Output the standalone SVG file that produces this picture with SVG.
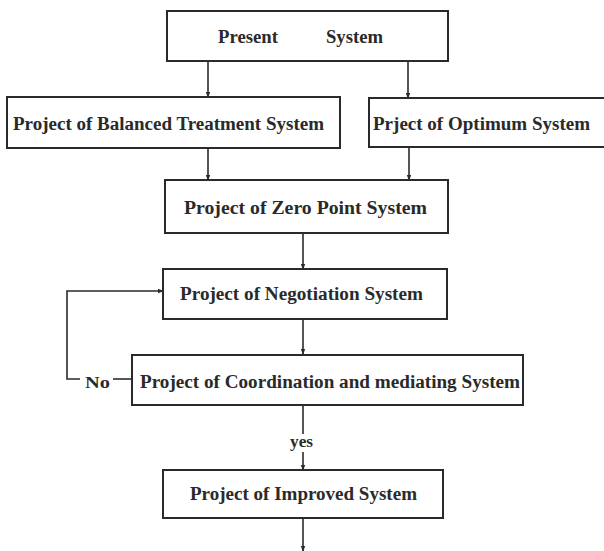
<svg xmlns="http://www.w3.org/2000/svg" width="604" height="551" viewBox="0 0 604 551">
<defs>
<style>
.box{fill:#fff;stroke:#2a2a2a;stroke-width:2}
.ln{fill:none;stroke:#2a2a2a;stroke-width:1.6}
.t{font-family:"Liberation Serif","Times New Roman",serif;font-size:18.5px;font-weight:bold;fill:#2a2a2a}
.s{font-family:"Liberation Serif","Times New Roman",serif;font-size:16px;font-weight:bold;fill:#2a2a2a}
</style>
<marker id="ah" viewBox="0 0 8 8" refX="7" refY="4" markerWidth="6" markerHeight="6" orient="auto" markerUnits="userSpaceOnUse">
<path d="M0,1 L8,4 L0,7 Z" fill="#2a2a2a"/>
</marker>
</defs>
<rect width="604" height="551" fill="#fff"/>
<g id="connectors">
<line class="ln" x1="208" y1="61" x2="208" y2="97" marker-end="url(#ah)"/>
<line class="ln" x1="408" y1="61" x2="408" y2="98" marker-end="url(#ah)"/>
<line class="ln" x1="208" y1="148" x2="208" y2="180" marker-end="url(#ah)"/>
<line class="ln" x1="409" y1="147" x2="409" y2="180" marker-end="url(#ah)"/>
<line class="ln" x1="303" y1="233" x2="303" y2="269" marker-end="url(#ah)"/>
<line class="ln" x1="303" y1="319" x2="303" y2="354" marker-end="url(#ah)"/>
<polyline class="ln" points="80,379 67,379 67,291 163,291" marker-end="url(#ah)"/>
<line class="ln" x1="113" y1="379" x2="132" y2="379"/>
<line class="ln" x1="303" y1="405" x2="303" y2="434"/>
<line class="ln" x1="303" y1="452" x2="303" y2="470" marker-end="url(#ah)"/>
<line class="ln" x1="303" y1="518" x2="303" y2="551" marker-end="url(#ah)"/>
<text class="s" x="85" y="388" textLength="25" lengthAdjust="spacingAndGlyphs">No</text>
<text class="s" x="290" y="447" textLength="23" lengthAdjust="spacingAndGlyphs">yes</text>
</g>
<g id="present">
<rect class="box" x="167" y="11" width="281" height="50"/>
<text class="t" x="218" y="43" textLength="60" lengthAdjust="spacingAndGlyphs">Present</text>
<text class="t" x="326" y="43" textLength="57" lengthAdjust="spacingAndGlyphs">System</text>
</g>
<g id="balanced">
<rect class="box" x="7" y="97" width="333" height="51"/>
<text class="t" x="13" y="130" textLength="311" lengthAdjust="spacingAndGlyphs">Project of Balanced Treatment System</text>
</g>
<g id="optimum">
<rect class="box" x="369" y="98" width="240" height="49"/>
<text class="t" x="373" y="130" textLength="217" lengthAdjust="spacingAndGlyphs">Prject of Optimum System</text>
</g>
<g id="zero">
<rect class="box" x="165" y="180" width="283" height="53"/>
<text class="t" x="184" y="214" textLength="243" lengthAdjust="spacingAndGlyphs">Project of Zero Point System</text>
</g>
<g id="negotiation">
<rect class="box" x="163" y="269" width="284" height="50"/>
<text class="t" x="180" y="300" textLength="243" lengthAdjust="spacingAndGlyphs">Project of Negotiation System</text>
</g>
<g id="coordination">
<rect class="box" x="132" y="355" width="391" height="50"/>
<text class="t" x="140" y="388" textLength="380" lengthAdjust="spacingAndGlyphs">Project of Coordination and mediating System</text>
</g>
<g id="improved">
<rect class="box" x="163" y="470" width="280" height="48"/>
<text class="t" x="190" y="500" textLength="227" lengthAdjust="spacingAndGlyphs">Project of Improved System</text>
</g>
</svg>
